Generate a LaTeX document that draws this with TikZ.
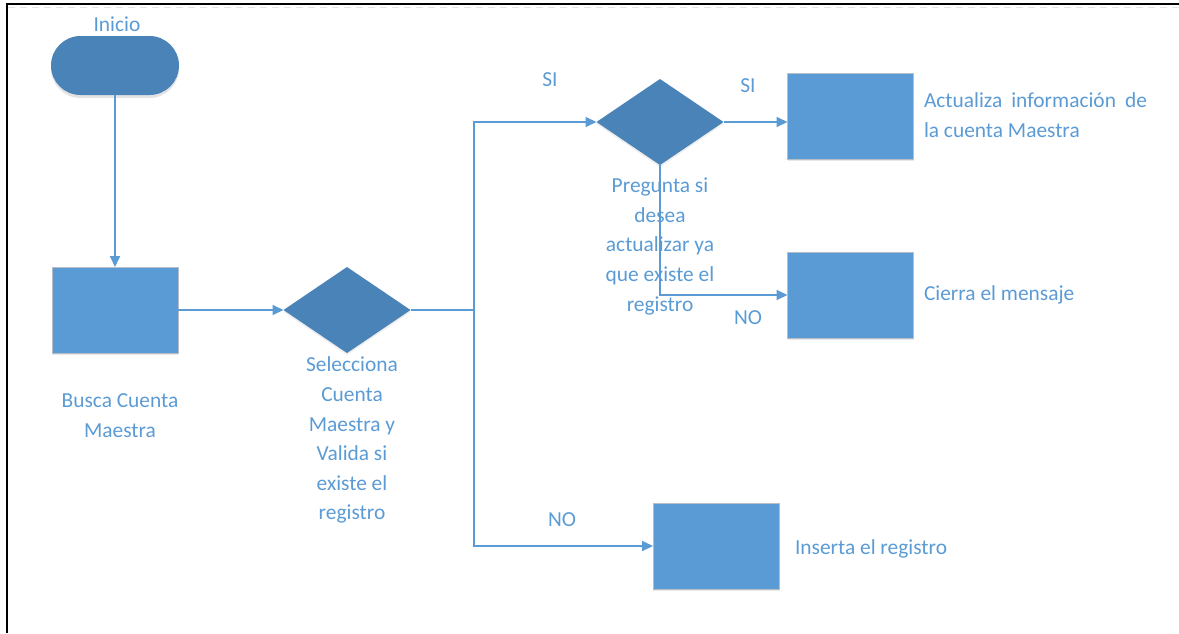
\documentclass[tikz,border=0pt]{standalone}
\usepackage{fontspec}
\setmainfont{Carlito}
\usetikzlibrary{shapes.geometric,shapes.misc,arrows.meta,shadows}

\definecolor{lblue}{HTML}{5B9BD5}
\definecolor{dblue}{HTML}{4A83B8}
\definecolor{edgegray}{HTML}{B8BEC6}

\tikzset{
  every node/.style={inner sep=0pt, outer sep=0pt},
  txt/.style={text=lblue, font=\fontsize{21.4}{29.6}\selectfont},
  procbox/.style={draw=edgegray, line width=1pt, fill=lblue,
    minimum width=126pt, minimum height=86pt,
    drop shadow={shadow xshift=0pt, shadow yshift=-2pt, opacity=0.18, fill=gray}},
  decision/.style={diamond, fill=dblue, minimum width=127pt, minimum height=86pt,
    drop shadow={shadow xshift=0pt, shadow yshift=-2pt, opacity=0.15, fill=gray}},
  terminal/.style={rounded rectangle, fill=dblue, minimum width=128pt, minimum height=59pt,
    drop shadow={shadow xshift=0pt, shadow yshift=-3pt, opacity=0.22, fill=gray}},
  conn/.style={draw=lblue, line width=1.8pt, -{Triangle[length=11pt,width=10pt]}},
  link/.style={draw=lblue, line width=1.8pt},
}

\begin{document}
\begin{tikzpicture}[x=1pt, y=-1pt]
\useasboundingbox (0,0) rectangle (1179,633);

% page frame
\draw[gray!20, line width=1pt, dash pattern=on 7pt off 5pt] (8,7.5) -- (1179,7.5);
\draw[black, line width=2.2pt] (7,4) -- (1179,4);
\draw[black, line width=2.6pt] (7,3) -- (7,633);

% shapes
\node[terminal] (start) at (115,65.5) {};
\node[txt] (startlbl) at (117,24) {Inicio};

\node[procbox] (busca) at (115,310) {};
\node[txt, align=center, anchor=north] (buscalbl) at (120,394) {Busca Cuenta\\Maestra};

\node[decision] (sel) at (347,310) {};
\node[txt, align=center, anchor=north] (sellbl) at (352,357) {Selecciona\\Cuenta\\Maestra y\\Valida si\\existe el\\registro};

\node[decision] (preg) at (660,122) {};
\node[txt, align=center, anchor=north] (preglbl) at (660,178) {Pregunta si\\desea\\actualizar ya\\que existe el\\registro};

\node[procbox] (act) at (850.5,116) {};
\node[txt, align=left, anchor=west] (actlbl) at (924,115) {\makebox[223pt][s]{Actualiza información de}\\la cuenta Maestra};

\node[procbox] (cierra) at (850.5,295) {};
\node[txt, anchor=west] (cierralbl) at (924,295) {Cierra el mensaje};

\node[procbox] (inserta) at (716,546) {};
\node[txt, anchor=west] (insertalbl) at (795,549) {Inserta el registro};

% branch labels
\node[txt] (si1) at (550,80) {SI};
\node[txt] (si2) at (748,86) {SI};
\node[txt] (no1) at (748,318) {NO};
\node[txt] (no2) at (562,520) {NO};

% connectors
\coordinate (split) at (474,310);
\draw[conn] (start.south) -- (busca.north);
\draw[conn] (busca.east) -- (sel.west);
\draw[link] (sel.east) -- (split);
\draw[conn] (split) |- (preg.west);
\draw[conn] (split) |- (inserta.west);
\draw[conn] (preg.east) -- (preg.east -| act.west);
\draw[conn] (preg.south) |- (cierra.west);
\end{tikzpicture}
\end{document}
